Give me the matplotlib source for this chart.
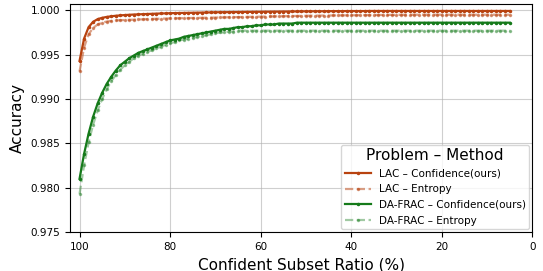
import numpy as np
import matplotlib.pyplot as plt

# subset ratio (%), from 100 down to 5
ratio = list(range(100, 4, -1))

lac_conf = [
    0.99430, 0.99680, 0.99810, 0.99870, 0.99900, 0.99915, 0.99925, 0.99932, 0.99938, 0.99942,
    0.99946, 0.99949, 0.99952, 0.99954, 0.99956, 0.99958, 0.99960, 0.99962, 0.99964, 0.99965,
    0.99967, 0.99968, 0.99969, 0.99970, 0.99971, 0.99972, 0.99973, 0.99974, 0.99975, 0.99976,
    0.99977, 0.99978, 0.99978, 0.99979, 0.99980, 0.99980, 0.99981, 0.99982, 0.99982, 0.99983,
    0.99983, 0.99984, 0.99984, 0.99985, 0.99985, 0.99986, 0.99986, 0.99987, 0.99987, 0.99988,
    0.99988, 0.99988, 0.99989, 0.99989, 0.99989, 0.99990, 0.99990, 0.99990, 0.99990, 0.99991,
    0.99991, 0.99991, 0.99991, 0.99991, 0.99992, 0.99992, 0.99992, 0.99992, 0.99992, 0.99992,
    0.99992, 0.99992, 0.99992, 0.99992, 0.99992, 0.99992, 0.99992, 0.99992, 0.99992, 0.99992,
    0.99992, 0.99992, 0.99992, 0.99992, 0.99992, 0.99992, 0.99992, 0.99992, 0.99992, 0.99992,
    0.99992, 0.99992, 0.99992, 0.99992, 0.99992, 0.99992,
]

lac_ent = [
    0.99310, 0.99580, 0.99730, 0.99800, 0.99840, 0.99860, 0.99873, 0.99880, 0.99885, 0.99888,
    0.99890, 0.99892, 0.99894, 0.99896, 0.99898, 0.99900, 0.99902, 0.99904, 0.99905, 0.99907,
    0.99908, 0.99909, 0.99910, 0.99911, 0.99912, 0.99913, 0.99914, 0.99915, 0.99916, 0.99917,
    0.99918, 0.99919, 0.99920, 0.99921, 0.99922, 0.99923, 0.99924, 0.99925, 0.99926, 0.99927,
    0.99928, 0.99929, 0.99930, 0.99931, 0.99932, 0.99933, 0.99934, 0.99935, 0.99936, 0.99937,
    0.99938, 0.99939, 0.99940, 0.99940, 0.99941, 0.99941, 0.99942, 0.99942, 0.99943, 0.99943,
    0.99944, 0.99944, 0.99945, 0.99945, 0.99946, 0.99946, 0.99947, 0.99947, 0.99948, 0.99948,
    0.99948, 0.99949, 0.99949, 0.99949, 0.99950, 0.99950, 0.99950, 0.99950, 0.99950, 0.99950,
    0.99950, 0.99950, 0.99950, 0.99950, 0.99950, 0.99950, 0.99950, 0.99950, 0.99950, 0.99950,
    0.99950, 0.99950, 0.99950, 0.99950, 0.99950, 0.99950,
]

da_conf = [
    0.9810, 0.9838, 0.9861, 0.9880, 0.9895, 0.9907, 0.9917, 0.9925, 0.9932, 0.9938,
    0.9942, 0.9946, 0.9949, 0.9952, 0.9954, 0.9956, 0.9958, 0.9960, 0.9962, 0.9964,
    0.9966, 0.9967, 0.9968, 0.9970, 0.9971, 0.9972, 0.9973, 0.9974, 0.9975, 0.9976,
    0.9977, 0.9978, 0.9979, 0.9979, 0.9980, 0.9981, 0.9981, 0.9982, 0.9982, 0.9983,
    0.9983, 0.9984, 0.9984, 0.9984, 0.9985, 0.9985, 0.9985, 0.9985, 0.9986, 0.9986,
    0.9986, 0.9986, 0.9986, 0.9986, 0.9986, 0.9986, 0.9986, 0.9986, 0.9986, 0.9986,
    0.9986, 0.9986, 0.9986, 0.9986, 0.9986, 0.9986, 0.9986, 0.9986, 0.9986, 0.9986,
    0.9986, 0.9986, 0.9986, 0.9986, 0.9986, 0.9986, 0.9986, 0.9986, 0.9986, 0.9986,
    0.9986, 0.9986, 0.9986, 0.9986, 0.9986, 0.9986, 0.9986, 0.9986, 0.9986, 0.9986,
    0.9986, 0.9986, 0.9986, 0.9986, 0.9986, 0.9986,
]

da_ent = [
    0.9793, 0.9825, 0.9851, 0.9871, 0.9887, 0.9900, 0.9911, 0.9920, 0.9927, 0.9933,
    0.9938, 0.9942, 0.9946, 0.9949, 0.9951, 0.9953, 0.9955, 0.9957, 0.9959, 0.9961,
    0.9963, 0.9964, 0.9966, 0.9967, 0.9968, 0.9969, 0.9970, 0.9971, 0.9972, 0.9973,
    0.9974, 0.9975, 0.9975, 0.9976, 0.9976, 0.9977, 0.9977, 0.9977, 0.9977, 0.9977,
    0.9977, 0.9977, 0.9977, 0.9977, 0.9977, 0.9977, 0.9977, 0.9977, 0.9977, 0.9977,
    0.9977, 0.9977, 0.9977, 0.9977, 0.9977, 0.9977, 0.9977, 0.9977, 0.9977, 0.9977,
    0.9977, 0.9977, 0.9977, 0.9977, 0.9977, 0.9977, 0.9977, 0.9977, 0.9977, 0.9977,
    0.9977, 0.9977, 0.9977, 0.9977, 0.9977, 0.9977, 0.9977, 0.9977, 0.9977, 0.9977,
    0.9977, 0.9977, 0.9977, 0.9977, 0.9977, 0.9977, 0.9977, 0.9977, 0.9977, 0.9977,
    0.9977, 0.9977, 0.9977, 0.9977, 0.9977, 0.9977,
]

orange = '#b8420f'
green = '#157a1a'

fig = plt.figure(figsize=(5.43, 2.71), dpi=100)
ax = fig.add_axes([0.129, 0.144, 0.851, 0.841])

ax.plot(ratio, lac_conf, '-', marker='.', ms=3, lw=1.6, color=orange,
        label='LAC – Confidence(ours)')
ax.plot(ratio, lac_ent, '--', marker='.', ms=3, lw=1.6, color=orange, alpha=0.5,
        label='LAC – Entropy')
ax.plot(ratio, da_conf, '-', marker='.', ms=3, lw=1.6, color=green,
        label='DA-FRAC – Confidence(ours)')
ax.plot(ratio, da_ent, '--', marker='.', ms=3, lw=1.6, color=green, alpha=0.4,
        label='DA-FRAC – Entropy')

ax.set_xlim(102.1, 0)
ax.set_ylim(0.975, 1.0007)
ax.set_xticks([100, 80, 60, 40, 20, 0])
ax.set_yticks([0.975, 0.980, 0.985, 0.990, 0.995, 1.000])
ax.tick_params(labelsize=7.5)
ax.grid(True, color='#b0b0b0', lw=0.8, alpha=0.6)
ax.set_xlabel('Confident Subset Ratio (%)', fontsize=11)
ax.set_ylabel('Accuracy', fontsize=11)

leg = ax.legend(loc='lower right', fontsize=7.5, title='Problem – Method',
                title_fontsize=11, handlelength=2.5, borderpad=0.3,
                labelspacing=0.55, borderaxespad=0.3)

fig.savefig('out.png', dpi=100)
